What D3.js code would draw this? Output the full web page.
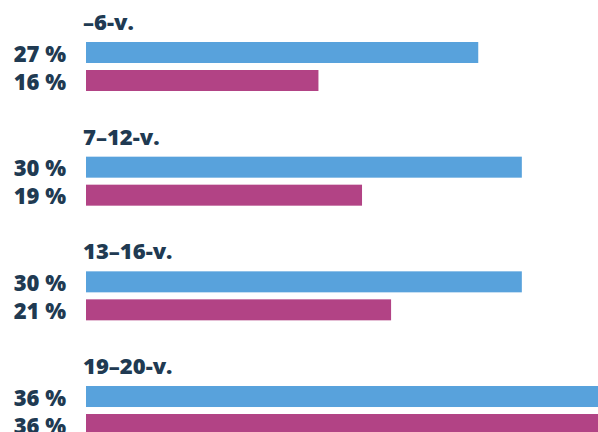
<!DOCTYPE html>
<html>
<head>
<meta charset="utf-8">
<script src="https://cdn.jsdelivr.net/npm/d3@7"></script>
<style>
  html, body { margin: 0; padding: 0; background: #fff; }
  svg { display: block; }
  text { font-family: "Open Sans", "Noto Sans", sans-serif; font-weight: 800; fill: #203a52; }
</style>
</head>
<body>
<svg id="chart" width="598" height="432"></svg>
<script>
// Age groups and the two compared shares (%) per group
const categories = ["–6-v.", "7–12-v.", "13–16-v.", "19–20-v."];
const seriesKeys = ["first", "second"];
const firstValues = [27, 30, 30, 36];
const secondValues = [16, 19, 21, 36];
const seriesColors = ["#58a2dc", "#b24385"];

const svg = d3.select("#chart");

const x = d3.scaleLinear().domain([0, 36]).range([86, 609]);

const yGroup = d3.scaleBand()
  .domain(categories)
  .range([42, 42 + 4 * 114.67])
  .padding(0);

const ySeries = d3.scaleBand()
  .domain(seriesKeys)
  .range([0, 49])
  .paddingInner(0.25)
  .paddingOuter(0);

const color = d3.scaleOrdinal().domain(seriesKeys).range(seriesColors);

const rows = categories.map((c, i) => ({
  category: c,
  values: [
    { key: "first", value: firstValues[i] },
    { key: "second", value: secondValues[i] }
  ]
}));

const g = svg.selectAll("g.group")
  .data(rows)
  .join("g")
  .attr("class", "group")
  .attr("transform", d => `translate(0,${yGroup(d.category)})`);

// Group heading above each pair of bars
g.append("text")
  .attr("x", 83)
  .attr("y", -12)
  .attr("font-size", 21)
  .attr("transform-origin", "83 -12")
  .attr("transform", "scale(1.05,1)")
  .text(d => d.category);

g.selectAll("rect")
  .data(d => d.values)
  .join("rect")
  .attr("x", x(0))
  .attr("y", d => ySeries(d.key))
  .attr("width", d => x(d.value) - x(0))
  .attr("height", ySeries.bandwidth())
  .attr("fill", d => color(d.key));

// Value labels to the left of the bars
g.selectAll("text.val")
  .data(d => d.values)
  .join("text")
  .attr("class", "val")
  .attr("x", 66)
  .attr("y", d => ySeries(d.key) + 19.5)
  .attr("text-anchor", "end")
  .attr("font-size", 22)
  .text(d => `${d.value} %`);
</script>
</body>
</html>
